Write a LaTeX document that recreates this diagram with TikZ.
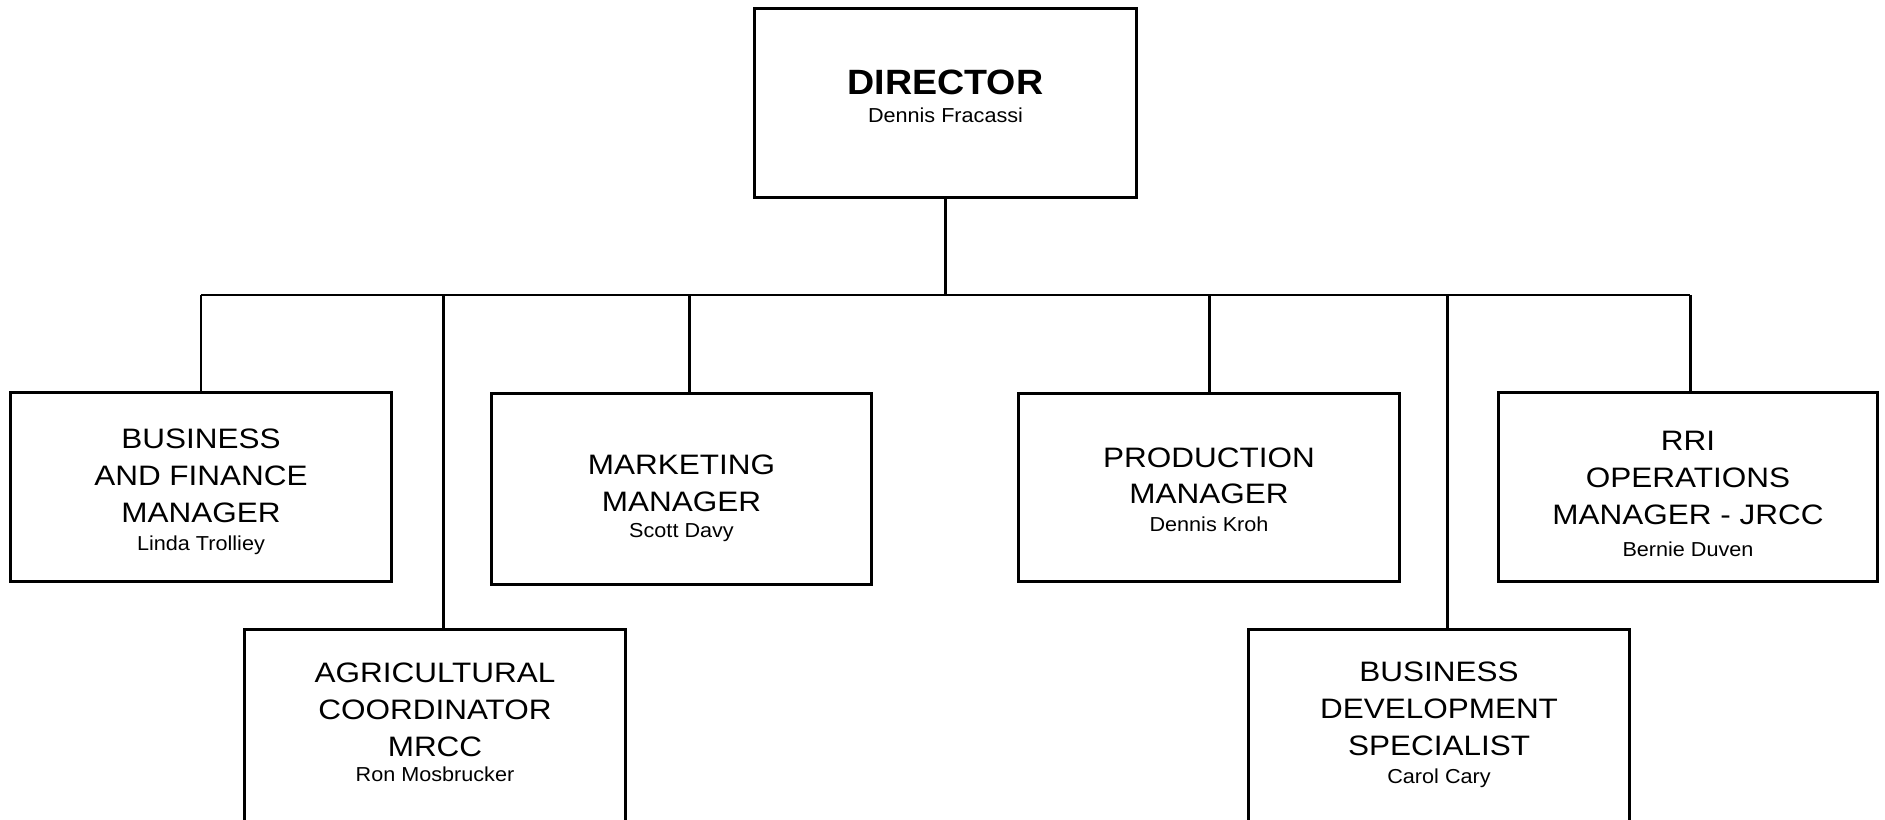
\documentclass[tikz,border=0pt]{standalone}
\usepackage{fontspec}
\setmainfont{Liberation Sans}
\newfontfamily\ttlfont[FakeStretch=1.12]{Liberation Sans}
\newfontfamily\nmfont[FakeStretch=1.07]{Liberation Sans}
\begin{document}
\begin{tikzpicture}[x=0.02cm,y=-0.02cm,
  box/.style={draw, line width=1.7pt, rectangle, inner sep=0pt},
  ttl/.style={align=center, font=\ttlfont\fontsize{16}{21}\selectfont, inner sep=0pt},
  dttl/.style={font=\nmfont\fontsize{20}{24}\selectfont\bfseries, inner sep=0pt},
  nm/.style={anchor=base, font=\nmfont\fontsize{11.5}{13}\selectfont, inner sep=0pt},
  conn/.style={line width=1.7pt}]
\useasboundingbox (0,0) rectangle (1885,820);
\clip (0,0) rectangle (1885,820);
% boxes
\node[box, minimum width=7.66cm, minimum height=3.8cm] (dir) at (945.5,103) {};
\node[box, minimum width=7.64cm, minimum height=3.8cm] (bfm) at (201,487) {};
\node[box, minimum width=7.62cm, minimum height=3.84cm] (mkt) at (681.5,489) {};
\node[box, minimum width=7.64cm, minimum height=3.78cm] (prod) at (1209,487.5) {};
\node[box, minimum width=7.6cm, minimum height=3.8cm] (rri) at (1688,487) {};
\node[box, minimum width=7.64cm, minimum height=4.42cm] (agri) at (435,739.5) {};
\node[box, minimum width=7.64cm, minimum height=4.42cm] (bds) at (1439,739.5) {};
% texts
\node[dttl] (dirT) at (945.5,82.5) {DIRECTOR};
\node[nm] (dirN) at (945.5,123) {Dennis Fracassi};
\node[ttl] (bfmT) at (201,475.8) {BUSINESS\\AND FINANCE\\MANAGER};
\node[nm] (bfmN) at (201,550.7) {Linda Trolliey};
\node[ttl] (mktT) at (681.5,483.3) {MARKETING\\MANAGER};
\node[nm] (mktN) at (681.5,537.7) {Scott Davy};
\node[ttl] (prodT) at (1209,475.8) {PRODUCTION\\MANAGER};
\node[nm] (prodN) at (1209,531.7) {Dennis Kroh};
\node[ttl] (rriT) at (1688,477.8) {RRI\\OPERATIONS\\MANAGER - JRCC};
\node[nm] (rriN) at (1688,556.7) {Bernie Duven};
\node[ttl] (agriT) at (435,710) {AGRICULTURAL\\COORDINATOR\\MRCC};
\node[nm] (agriN) at (435,781.7) {Ron Mosbrucker};
\node[ttl] (bdsT) at (1439,709.2) {BUSINESS\\DEVELOPMENT\\SPECIALIST};
\node[nm] (bdsN) at (1439,783.3) {Carol Cary};
% connectors
\coordinate (busL) at (201,295);
\coordinate (busR) at (1690,295);
\coordinate (sAgri) at (443,295);
\coordinate (sMkt) at (689,295);
\coordinate (sBds) at (1447,295);
\draw[conn] (busL) -- (busR);
\draw[conn] (dir.south) -- (dir.south |- busL);
\draw[conn] (busL) -- (bfm.north);
\draw[conn] (sAgri) -- (sAgri |- agri.north);
\draw[conn] (sMkt) -- (sMkt |- mkt.north);
\draw[conn] (prod.north |- busL) -- (prod.north);
\draw[conn] (sBds) -- (sBds |- bds.north);
\draw[conn] (busR) -- (busR |- rri.north);
\end{tikzpicture}
\end{document}
